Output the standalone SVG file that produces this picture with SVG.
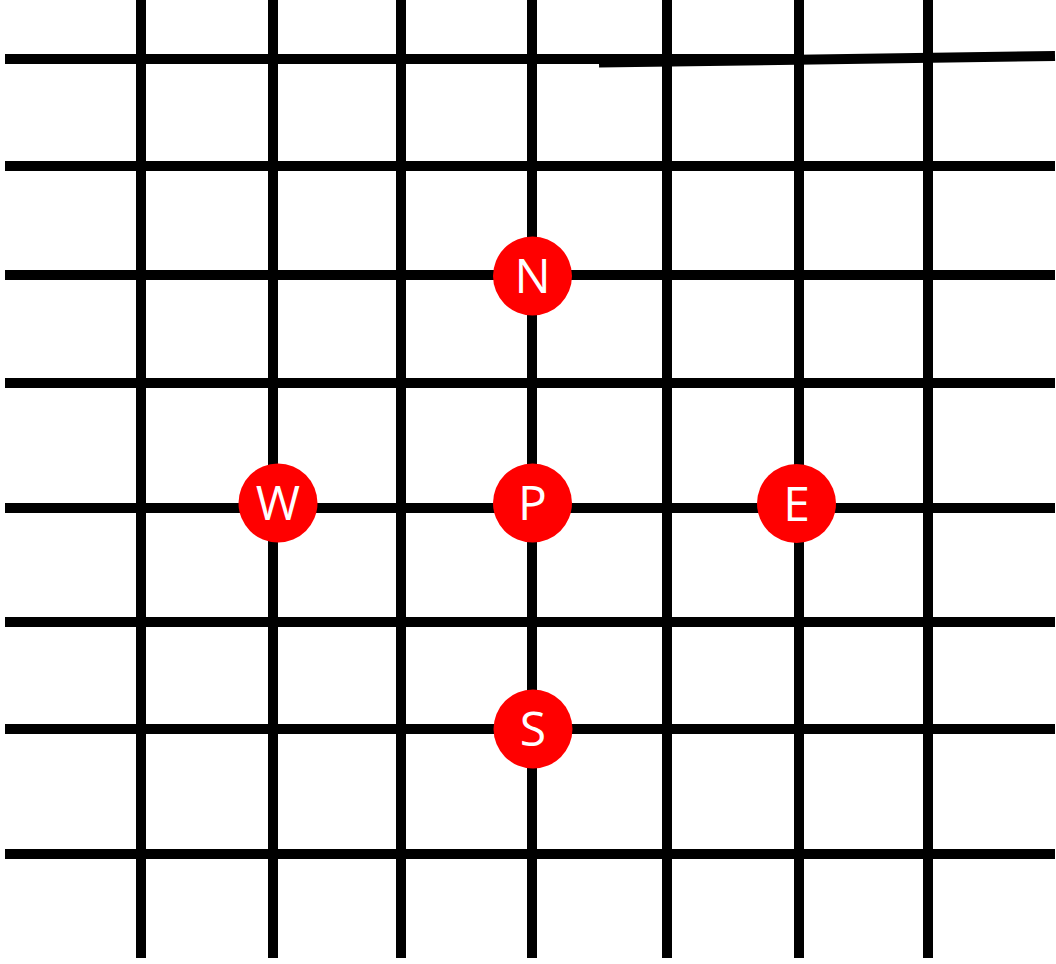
<svg xmlns="http://www.w3.org/2000/svg" width="1056" height="964" viewBox="0 0 1056 964">
<style>
.g line{stroke:#000;stroke-width:10;}
.node circle{fill:#ff0000;}
.node text{fill:#fff;font-family:"Open Sans","Liberation Sans",sans-serif;font-size:48px;text-anchor:middle;}
</style>
<rect width="1056" height="964" fill="#fff"/>
<g id="connectors" class="g">
<line x1="141" y1="0" x2="141" y2="958"/>
<line x1="273" y1="0" x2="273" y2="958"/>
<line x1="401" y1="0" x2="401" y2="958"/>
<line x1="532" y1="0" x2="532" y2="958"/>
<line x1="667" y1="0" x2="667" y2="958"/>
<line x1="799" y1="0" x2="799" y2="958"/>
<line x1="928" y1="0" x2="928" y2="958"/>
<line x1="5" y1="59" x2="797" y2="59"/>
<line x1="599" y1="62.5" x2="1055" y2="56"/>
<line x1="5" y1="166" x2="1055" y2="166"/>
<line x1="5" y1="275" x2="1055" y2="275"/>
<line x1="5" y1="383" x2="1055" y2="383"/>
<line x1="5" y1="508" x2="1055" y2="508"/>
<line x1="5" y1="622" x2="1055" y2="622"/>
<line x1="5" y1="729" x2="1055" y2="729"/>
<line x1="5" y1="854" x2="1055" y2="854"/>
</g>
<g id="node-N" class="node"><circle cx="532.5" cy="276" r="39.5"/><text x="532.5" y="293">N</text></g>
<g id="node-W" class="node"><circle cx="278" cy="503" r="39.5"/><text x="278" y="520">W</text></g>
<g id="node-P" class="node"><circle cx="532.5" cy="503" r="39.5"/><text x="532.5" y="520">P</text></g>
<g id="node-E" class="node"><circle cx="796.5" cy="503.5" r="39.5"/><text x="796.5" y="520.5">E</text></g>
<g id="node-S" class="node"><circle cx="533" cy="729" r="39.5"/><text x="533" y="746">S</text></g>
</svg>
